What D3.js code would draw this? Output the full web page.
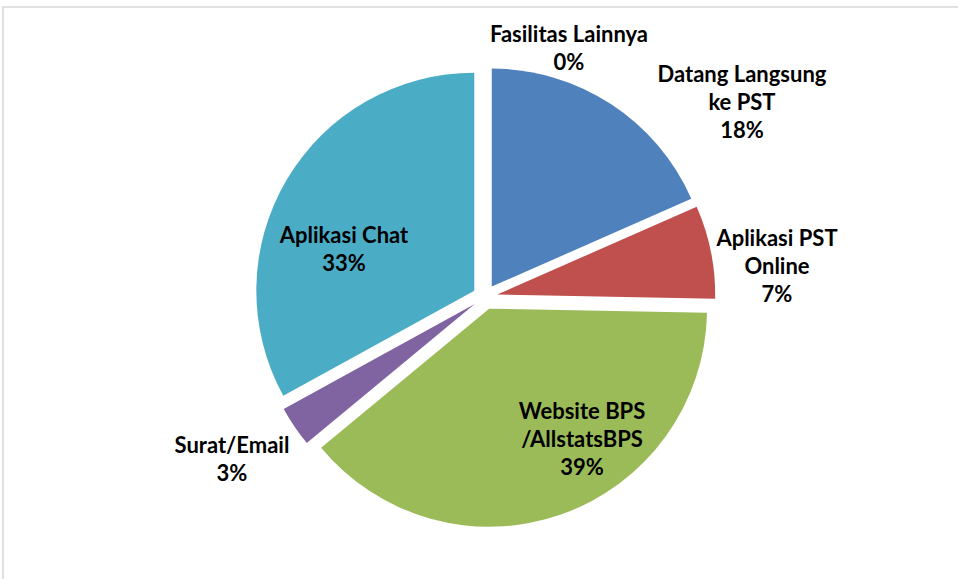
<!DOCTYPE html>
<html>
<head>
<meta charset="utf-8">
<script src="https://cdn.jsdelivr.net/npm/d3@7"></script>
<style>
  html, body { margin: 0; padding: 0; background: #fff; }
  svg { display: block; }
</style>
</head>
<body>
<script>
// data, in the order Excel draws the slices (clockwise from 12 o'clock)
var categories = ["Datang Langsung ke PST", "Aplikasi PST Online", "Website BPS /AllstatsBPS", "Surat/Email", "Aplikasi Chat", "Fasilitas Lainnya"];
var values = [18.4, 6.9, 38.7, 3.0, 33.0, 0.0];
var labelLines = [["Datang Langsung", "ke PST"], ["Aplikasi PST", "Online"], ["Website BPS", "/AllstatsBPS"], ["Surat/Email"], ["Aplikasi Chat"], ["Fasilitas Lainnya"]];
var colors = ["#4f81bd", "#c0504d", "#9bbb59", "#8064a2", "#4bacc6", "#f79646"];

// label block centres, relative to the pie centre
var labelOffsets = [[257, -195], [292, -31], [97, 142], [-253, 162], [-141, -48], [84, -249]];

var width = 958, height = 579;
var cx = 485, cy = 297, radius = 218, explode = 12.4;
var fontSize = 22, lineH = 28;

var svg = d3.select("body").append("svg")
    .attr("width", width)
    .attr("height", height);

// chart area frame (only top and left edges visible)
svg.append("rect")
    .attr("x", 3).attr("y", 7)
    .attr("width", width + 20).attr("height", height + 20)
    .attr("fill", "#fff")
    .attr("stroke", "#d4d4d4")
    .attr("stroke-width", 1.4);

var pie = d3.pie().sort(null).value(function(d) { return d; });
var arcs = pie(values);
var arc = d3.arc().innerRadius(0).outerRadius(radius);

var g = svg.append("g").attr("transform", "translate(" + cx + "," + cy + ")");

g.selectAll("path")
    .data(arcs.filter(function(d) { return d.value > 0; }))
    .enter().append("path")
    .attr("fill", function(d) { return colors[d.index]; })
    .attr("transform", function(d) {
        var a = (d.startAngle + d.endAngle) / 2;
        return "translate(" + (Math.sin(a) * explode) + "," + (-Math.cos(a) * explode) + ")";
    })
    .attr("d", arc);

var total = d3.sum(values);
var labels = g.selectAll("text.lbl")
    .data(arcs)
    .enter().append("text")
    .attr("class", "lbl")
    .attr("text-anchor", "middle")
    .attr("font-family", "Lato, 'Open Sans', sans-serif")
    .attr("font-weight", "bold")
    .attr("font-size", fontSize)
    .attr("fill", "#000");

labels.each(function(d) {
    var lines = labelLines[d.index].concat([Math.round(d.value / total * 100) + "%"]);
    var off = labelOffsets[d.index];
    var n = lines.length;
    d3.select(this).selectAll("tspan")
        .data(lines)
        .enter().append("tspan")
        .attr("x", off[0])
        .attr("y", function(l, i) { return off[1] + (i - (n - 1) / 2) * lineH + fontSize * 0.36; })
        .text(function(l) { return l; });
});
</script>
</body>
</html>
